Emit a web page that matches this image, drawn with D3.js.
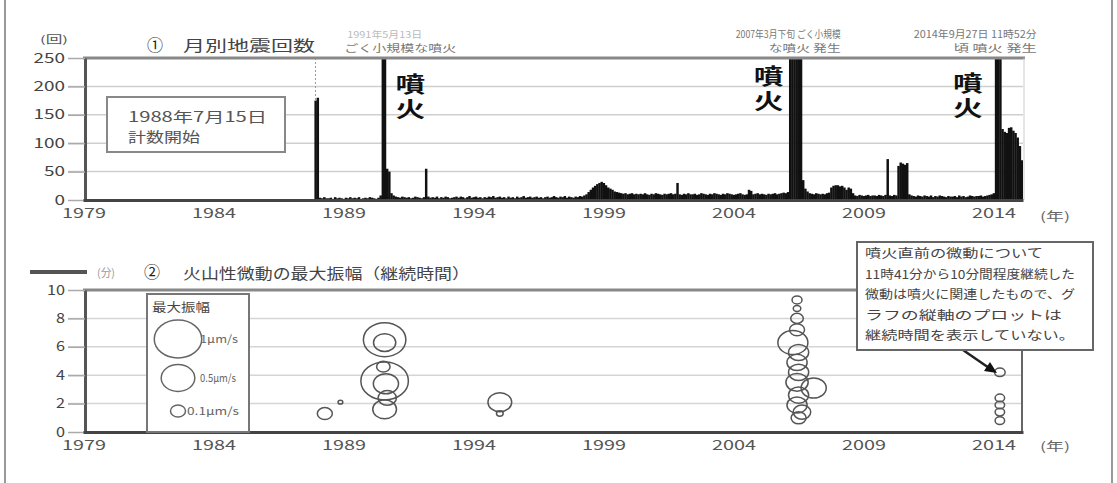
<!DOCTYPE html>
<html><head><meta charset="utf-8">
<script src="https://cdn.jsdelivr.net/npm/d3@7"></script>
<style>
body{margin:0;background:#fff}
svg{display:block}
text{font-family:"Noto Sans CJK JP","Noto Sans",sans-serif;fill:#333}
</style>
</head><body>
<svg id="c" width="1117" height="483"></svg>
<script>
// ---------- DATA ----------
const xTickYears = [1979, 1984, 1989, 1994, 1999, 2004, 2009, 2014];
const countTicks = [0, 50, 100, 150, 200, 250];
const tremorTicks = [0, 2, 4, 6, 8, 10];
const countStartYear = 1988, countStartMonth = 7; // counting began July 1988
// monthly earthquake counts, from Jul 1988 to Sep 2015 (values > 250 run off the top)
const monthlyCounts = [
  175, 180, 4, 3, 5, 3,                                  // 1988 Jul-Dec
  3, 4, 2, 5, 3, 4, 3, 2, 4, 3, 5, 3,                    // 1989
  4, 3, 5, 2, 3, 4, 3, 5, 4, 3, 2, 4,                    // 1990
  8, 300, 280, 55, 50, 12, 8, 6, 5, 4, 6, 5,             // 1991
  4, 5, 3, 4, 6, 5, 4, 3, 5, 55, 6, 4,                   // 1992
  5, 4, 6, 3, 5, 4, 6, 5, 3, 4, 5, 6,                    // 1993
  4, 6, 5, 3, 5, 7, 4, 5, 6, 4, 5, 3,                    // 1994
  5, 4, 6, 5, 7, 4, 5, 6, 4, 5, 3, 6,                    // 1995
  4, 5, 3, 6, 4, 5, 7, 4, 5, 6, 4, 5,                    // 1996
  6, 4, 5, 3, 5, 6, 4, 5, 7, 5, 4, 6,                    // 1997
  5, 7, 4, 6, 5, 4, 6, 5, 7, 6, 8, 10,                   // 1998
  14, 18, 22, 25, 28, 30, 32, 30, 26, 22, 20, 18,        // 1999
  15, 14, 13, 12, 11, 12, 10, 11, 12, 10, 11, 10,        // 2000
  11, 10, 12, 10, 9, 11, 10, 12, 11, 10, 9, 11,          // 2001
  10, 11, 12, 10, 11, 30, 10, 9, 11, 10, 12, 10,         // 2002
  10, 11, 9, 10, 12, 11, 10, 9, 11, 10, 12, 11,          // 2003
  10, 9, 11, 10, 12, 11, 10, 9, 10, 11, 12, 10,          // 2004
  9, 10, 18, 16, 10, 11, 12, 10, 11, 10, 9, 11,          // 2005
  10, 11, 12, 10, 11, 12, 13, 12, 14, 260, 300, 800,     // 2006
  1200, 400, 300, 35, 20, 15, 12, 11, 10, 12, 11, 10,    // 2007
  11, 10, 12, 13, 22, 25, 26, 26, 24, 25, 22, 18,        // 2008
  22, 20, 12, 8, 7, 9, 8, 7, 8, 9, 7, 8,                 // 2009
  8, 7, 9, 8, 7, 9, 72, 8, 7, 9, 8, 60,                  // 2010
  66, 64, 62, 65, 10, 8, 7, 6, 8, 7, 6, 8,               // 2011
  7, 6, 8, 5, 7, 6, 8, 7, 6, 5, 7, 6,                    // 2012
  6, 7, 5, 8, 6, 7, 5, 6, 8, 7, 6, 7,                    // 2013
  7, 8, 6, 7, 8, 9, 10, 12, 1500, 400, 260, 125,         // 2014
  120, 118, 127, 128, 122, 118, 110, 95, 70              // 2015 Jan-Sep
];
// tremor events: decimal year, duration value, max amplitude
const tremorYears = [1988.9, 1989.5,
  1991.2, 1991.2, 1991.2, 1991.25, 1991.3, 1991.2, 1991.15,
  1995.63, 1995.63,
  2007.06, 2007.06, 2007.06, 2007.06, 2006.9, 2007.12, 2007.06, 2007.12, 2007.06, 2007.7, 2007.12, 2007.06, 2007.25, 2007.12,
  2014.86, 2014.86, 2014.86, 2014.86, 2014.86];
const tremorValues = [1.3, 2.1,
  6.5, 6.3, 3.6, 3.4, 2.4, 1.6, 4.6,
  2.1, 1.3,
  9.3, 8.7, 8.0, 7.2, 6.3, 5.6, 4.9, 4.2, 3.5, 3.1, 2.6, 1.9, 1.4, 1.0,
  4.2, 2.4, 1.9, 1.4, 0.8];
const tremorAmps = [0.1, 0.01,
  0.8, 0.22, 1.0, 0.28, 0.15, 0.25, 0.08,
  0.25, 0.02,
  0.044, 0.025, 0.07, 0.1, 0.4, 0.18, 0.18, 0.18, 0.22, 0.28, 0.18, 0.18, 0.136, 0.1,
  0.05, 0.04, 0.04, 0.04, 0.04];
const legendAmps = [1, 0.5, 0.1];
const legendLabels = ["1μm/s", "0.5μm/s", "0.1μm/s"];
const eruptionNotes = [
  {t: 1991.3, l1: "1991年5月13日", l2: "ごく小規模な噴火", side: "right"},
  {t: 2007.2, l1: "2007年3月下旬 ごく小規模", l2: "な噴火 発生", side: "left"},
  {t: 2014.74, l1: "2014年9月27日 11時52分", l2: "頃 噴火 発生", side: "left"}
];
const calloutLines = ["噴火直前の微動について", "11時41分から10分間程度継続した", "微動は噴火に関連したもので、グ", "ラフの縦軸のプロットは", "継続時間を表示していない。"];

// ---------- SCALES ----------
const svg = d3.select('#c');
const x = d3.scaleLinear().domain([1979.6, 2015.75]).range([83, 1023]);
const yC = d3.scaleLinear().domain([0, 250]).range([200, 58]);
const yT = d3.scaleLinear().domain([0, 10]).range([432, 290]);
const rA = d3.scaleSqrt().domain([0, 1]).range([0, 19]);
const SX = 1.25; // horizontal stretch of the original scan

function txt(g, xx, yy, s, size, len, o = {}) {
  const t = g.append('text').attr('x', xx).attr('y', yy).text(s)
    .attr('font-size', size);
  if (len) t.attr('textLength', len).attr('lengthAdjust', 'spacingAndGlyphs');
  if (o.anchor) t.attr('text-anchor', o.anchor);
  if (o.weight) t.attr('font-weight', o.weight);
  if (o.fill) t.style('fill', o.fill);
  return t;
}
function vtxt(g, cx, ty, s) {
  g.append('g').attr('transform', `translate(${cx},${ty}) scale(1.35,1)`)
    .append('text').attr('x', 0).attr('y', 0).text(s)
    .attr('font-size', 22).attr('font-weight', 'bold')
    .style('writing-mode', 'vertical-rl').style('letter-spacing', '3px')
    .style('fill', '#111');
}

// outer frame
svg.append('line').attr('x1', 5).attr('x2', 5).attr('y1', 0).attr('y2', 483).attr('stroke', '#777').attr('stroke-width', 1.5);
svg.append('line').attr('x1', 1112).attr('x2', 1112).attr('y1', 0).attr('y2', 483).attr('stroke', '#777').attr('stroke-width', 1.5);

// ================= TOP CHART =================
const gTop = svg.append('g');
svg.append('clipPath').attr('id', 'clipTop').append('rect')
  .attr('x', 83).attr('y', 58).attr('width', 940).attr('height', 142);

gTop.selectAll('.g').data(countTicks.filter(d => d > 0 && d < 250)).join('line')
  .attr('x1', 68).attr('x2', 1023).attr('y1', d => yC(d)).attr('y2', d => yC(d))
  .attr('stroke', '#cfcfcf').attr('stroke-width', 1.5);

gTop.append('line').attr('x1', x(1988.54)).attr('x2', x(1988.54)).attr('y1', 58).attr('y2', 200)
  .attr('stroke', '#999').attr('stroke-dasharray', '2,2');

const months = monthlyCounts.map((v, i) => {
  const t0 = countStartYear + (countStartMonth - 1 + i) / 12;
  return {t0, t1: t0 + 1 / 12, v};
});
gTop.append('g').attr('clip-path', 'url(#clipTop)').selectAll('rect').data(months).join('rect')
  .attr('x', d => x(d.t0)).attr('width', d => x(d.t1) - x(d.t0) + 0.3)
  .attr('y', d => yC(d.v)).attr('height', d => yC(0) - yC(d.v))
  .attr('fill', '#111');

gTop.append('line').attr('x1', 83).attr('x2', 1025).attr('y1', 58).attr('y2', 58).attr('stroke', '#888').attr('stroke-width', 3);
gTop.append('line').attr('x1', 1024).attr('x2', 1024).attr('y1', 58).attr('y2', 200).attr('stroke', '#ccc').attr('stroke-width', 1);

const ayC = gTop.append('g').attr('transform', 'translate(85,0)')
  .call(d3.axisLeft(yC).tickValues(countTicks).tickSize(17).tickPadding(3).tickSizeOuter(0));
ayC.select('.domain').attr('stroke', '#555').attr('stroke-width', 3);
ayC.selectAll('.tick line').attr('stroke', '#aaa').attr('stroke-width', 1.5);
ayC.selectAll('.tick text').attr('font-size', 13).style('fill', '#444')
  .attr('textLength', d => String(d).length * 10.5).attr('lengthAdjust', 'spacingAndGlyphs');

const axC = gTop.append('g').attr('transform', 'translate(0,200)')
  .call(d3.axisBottom(x).tickValues(xTickYears.map(y => y + 0.62)).tickFormat(d => String(Math.round(d - 0.62)))
    .tickSize(0).tickPadding(9).tickSizeOuter(0));
axC.select('.domain').attr('stroke', '#444').attr('stroke-width', 3);
axC.selectAll('.tick text').attr('font-size', 13).style('fill', '#555')
  .attr('textLength', 44).attr('lengthAdjust', 'spacingAndGlyphs');
txt(gTop, 1040, 221, '(年)', 12, 30, {fill: '#666'});

txt(gTop, 40, 43, '(回)', 10, 28, {fill: '#555'});
txt(gTop, 155, 51, '①', 16, null, {anchor: 'middle', fill: '#222'});
txt(gTop, 183, 51, '月別地震回数', 15, 132, {fill: '#444'});

gTop.append('rect').attr('x', 107).attr('y', 97).attr('width', 178).attr('height', 55)
  .attr('fill', '#fff').attr('stroke', '#888').attr('stroke-width', 2);
txt(gTop, 128, 122, '1988年7月15日', 14, 139, {fill: '#555'});
txt(gTop, 128, 142, '計数開始', 14, 72, {fill: '#555'});

eruptionNotes.forEach(e => {
  const xe = x(e.t);
  if (e.side === 'right') {
    vtxt(gTop, xe + 23, 73, '噴火');
    txt(gTop, xe - 40, 38, e.l1, 9, 75, {fill: '#bbb'});
    txt(gTop, xe - 43, 52, e.l2, 10, 112, {fill: '#777'});
  } else {
    vtxt(gTop, xe - (e.t > 2010 ? 29 : 32), e.t > 2010 ? 72 : 65, '噴火');
    txt(gTop, xe + 40, 38, e.l1, 10, e.t > 2010 ? 123 : 105, {anchor: 'end', fill: '#777'});
    txt(gTop, xe + 40, 52, e.l2, 10, e.t > 2010 ? 83 : 72, {anchor: 'end', fill: '#777'});
  }
});

// ================= BOTTOM CHART =================
const gBot = svg.append('g');
gBot.selectAll('.g').data(tremorTicks.filter(d => d > 0 && d < 10)).join('line')
  .attr('x1', 68).attr('x2', 1022).attr('y1', d => yT(d)).attr('y2', d => yT(d))
  .attr('stroke', '#d5d5d5').attr('stroke-width', 1.5);

gBot.append('line').attr('x1', 83).attr('x2', 860).attr('y1', 290).attr('y2', 290).attr('stroke', '#888').attr('stroke-width', 3);
gBot.append('line').attr('x1', 1022).attr('x2', 1022).attr('y1', 345).attr('y2', 432).attr('stroke', '#666').attr('stroke-width', 2);

const tremors = tremorYears.map((t, i) => ({t, v: tremorValues[i], a: tremorAmps[i]}));
gBot.append('g').selectAll('ellipse').data(tremors).join('ellipse')
  .attr('cx', d => x(d.t)).attr('cy', d => yT(d.v))
  .attr('rx', d => Math.max(1.5, rA(d.a)) * SX).attr('ry', d => Math.max(1.5, rA(d.a)))
  .attr('fill', 'none').attr('stroke', '#555').attr('stroke-width', 1.5);

const ayT = gBot.append('g').attr('transform', 'translate(85,0)')
  .call(d3.axisLeft(yT).tickValues(tremorTicks).tickSize(17).tickPadding(3).tickSizeOuter(0));
ayT.select('.domain').attr('stroke', '#555').attr('stroke-width', 3);
ayT.selectAll('.tick line').attr('stroke', '#aaa').attr('stroke-width', 1.5);
ayT.selectAll('.tick text').attr('font-size', 13).style('fill', '#444')
  .attr('textLength', d => String(d).length * 9).attr('lengthAdjust', 'spacingAndGlyphs');

const axT = gBot.append('g').attr('transform', 'translate(0,432)')
  .call(d3.axisBottom(x).tickValues(xTickYears.map(y => y + 0.62)).tickFormat(d => String(Math.round(d - 0.62)))
    .tickSize(0).tickPadding(9).tickSizeOuter(0));
axT.select('.domain').attr('stroke', '#444').attr('stroke-width', 3);
axT.selectAll('.tick text').attr('font-size', 13).style('fill', '#555')
  .attr('textLength', 44).attr('lengthAdjust', 'spacingAndGlyphs');
txt(gBot, 1040, 451, '(年)', 12, 30, {fill: '#666'});

gBot.append('line').attr('x1', 30).attr('x2', 87).attr('y1', 272).attr('y2', 272).attr('stroke', '#555').attr('stroke-width', 4);
txt(gBot, 97, 277, '(分)', 11, 18, {fill: '#999'});
txt(gBot, 152, 278, '②', 16, null, {anchor: 'middle', fill: '#222'});
txt(gBot, 183, 279, '火山性微動の最大振幅（継続時間）', 15, 287, {fill: '#444'});

gBot.append('rect').attr('x', 147).attr('y', 294).attr('width', 102).attr('height', 138)
  .attr('fill', '#fff').attr('stroke', '#777').attr('stroke-width', 2);
txt(gBot, 152, 312, '最大振幅', 12, 58, {fill: '#444'});
const legY = [339, 378, 411];
legendAmps.forEach((a, i) => {
  gBot.append('ellipse').attr('cx', 178).attr('cy', legY[i]).attr('rx', rA(a) * SX).attr('ry', rA(a))
    .attr('fill', 'none').attr('stroke', '#666').attr('stroke-width', 1.5);
  const lx = i === 2 ? 187 : 200;
  txt(gBot, lx, legY[i] + 4, legendLabels[i], 11, i === 2 ? 52 : (i === 1 ? 36 : 38), {fill: '#666'});
});

gBot.append('line').attr('x1', 963).attr('y1', 350).attr('x2', 992).attr('y2', 370)
  .attr('stroke', '#222').attr('stroke-width', 2.5);
gBot.append('path').attr('d', 'M 997 373 L 984 371 L 990 362 Z').attr('fill', '#111');
gBot.append('rect').attr('x', 857).attr('y', 242).attr('width', 236).attr('height', 108)
  .attr('fill', '#fff').attr('stroke', '#666').attr('stroke-width', 2);
const cl = [178, 210, 210, 197, 210];
calloutLines.forEach((s, i) => {
  txt(gBot, 865, 258 + i * 20.5, s, 12, cl[i], {fill: '#444'});
});
</script>
</body></html>
